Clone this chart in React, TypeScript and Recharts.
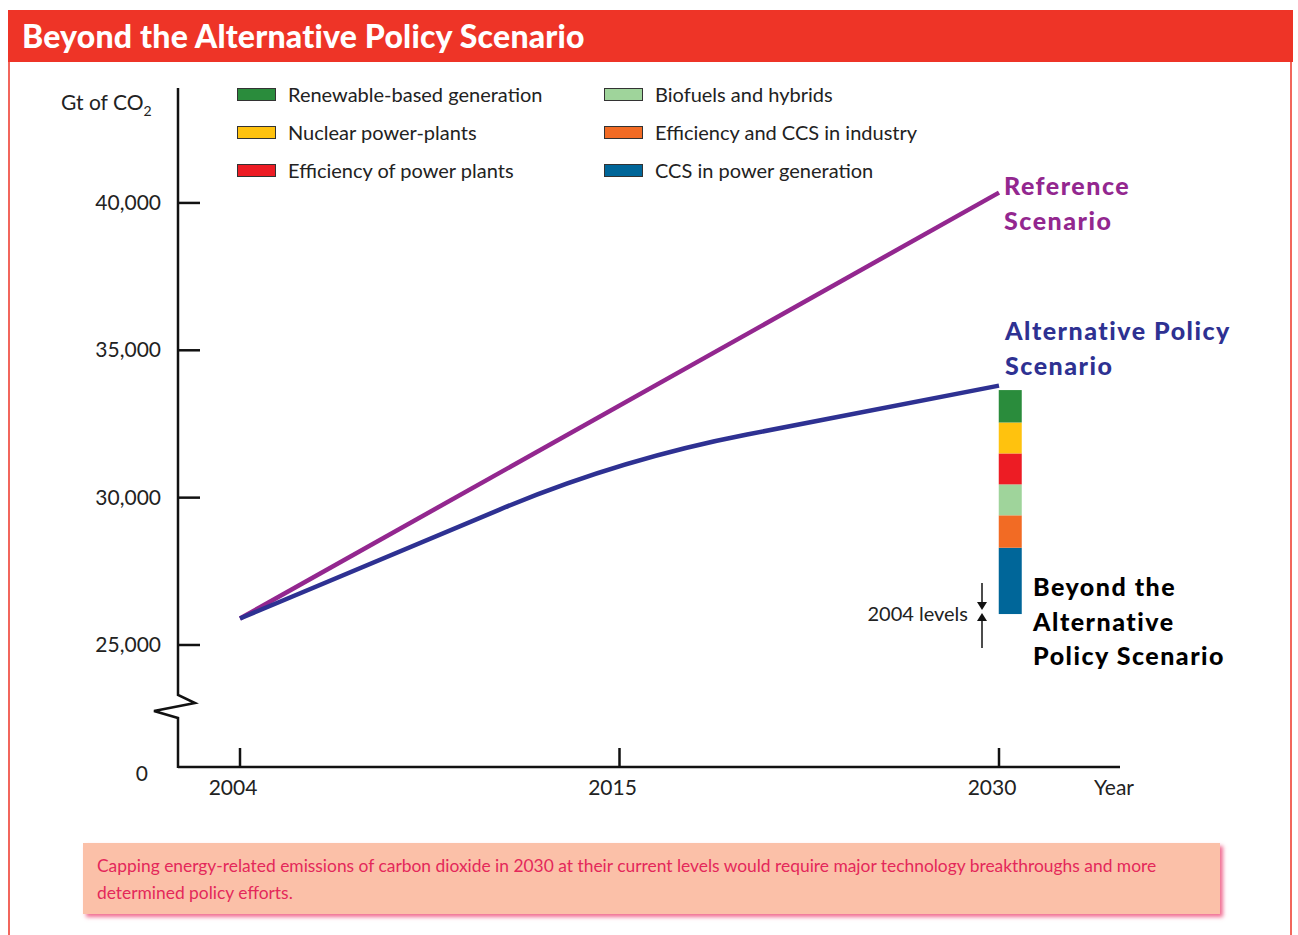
import React from 'react';
import { ComposedChart, Line, Bar, XAxis, YAxis } from 'recharts';

// ---- data ----
const years = ['2004', '2015', '2030'];
const referenceScenario = [25900, null, 40350];
const alternativeScenario = [25900, 31300, 33800];
const level2004Base = [null, null, 26050];
const ccsPower = [null, null, 2250];
const effCcsIndustry = [null, null, 1100];
const biofuels = [null, null, 1050];
const effPowerPlants = [null, null, 1050];
const nuclear = [null, null, 1050];
const renewables = [null, null, 1100];

const yTicks = [20860, 25000, 30000, 35000, 40000];
const yTickLabels = ['0', '25,000', '30,000', '35,000', '40,000'];
const yDomain = [20860, 43900];

const legendLeft = [
  { name: 'Renewable-based generation', color: '#2A8C3C' },
  { name: 'Nuclear power-plants', color: '#FFC20E' },
  { name: 'Efficiency of power plants', color: '#ED1C24' },
];
const legendRight = [
  { name: 'Biofuels and hybrids', color: '#9FD49B' },
  { name: 'Efficiency and CCS in industry', color: '#F26B24' },
  { name: 'CCS in power generation', color: '#006699' },
];

const data = years.map((year, i) => ({
  year,
  reference: referenceScenario[i],
  alternative: alternativeScenario[i],
  base: level2004Base[i],
  ccsPower: ccsPower[i],
  effCcsIndustry: effCcsIndustry[i],
  biofuels: biofuels[i],
  effPowerPlants: effPowerPlants[i],
  nuclear: nuclear[i],
  renewables: renewables[i],
}));

const FONT = 'Lato, "Open Sans", sans-serif';

// straight segments joined by gently rounded corners
const roundedCurve = (context: any) => {
  let pts: number[][] = [];
  return {
    areaStart() {},
    areaEnd() {},
    lineStart() {
      pts = [];
    },
    point(x: number, y: number) {
      pts.push([+x, +y]);
    },
    lineEnd() {
      if (!pts.length) return;
      context.moveTo(pts[0][0], pts[0][1]);
      for (let i = 1; i < pts.length - 1; i++) {
        const [ax, ay] = pts[i - 1];
        const [px, py] = pts[i];
        const [bx, by] = pts[i + 1];
        const da = Math.hypot(px - ax, py - ay);
        const db = Math.hypot(bx - px, by - py);
        const r = Math.min(130, da / 2, db / 2);
        context.lineTo(px - ((px - ax) / da) * r, py - ((py - ay) / da) * r);
        context.quadraticCurveTo(px, py, px + ((bx - px) / db) * r, py + ((by - py) / db) * r);
      }
      const last = pts[pts.length - 1];
      context.lineTo(last[0], last[1]);
    },
  };
};

const YTick = (props: any) => {
  const { x, y, payload } = props;
  const idx = yTicks.indexOf(payload.value);
  const label = yTickLabels[idx] ?? String(payload.value);
  if (idx === 0) {
    return (
      <text x={x - 30} y={y + 14} textAnchor="end" fontSize={21} fill="#222" fontFamily={FONT}>
        {label}
      </text>
    );
  }
  return (
    <g>
      <line x1={x} x2={x + 22} y1={y} y2={y} stroke="#111" strokeWidth={2.5} />
      <text x={x - 17} y={y + 7} textAnchor="end" fontSize={21} fill="#222" fontFamily={FONT}>
        {label}
      </text>
    </g>
  );
};

const XTick = (props: any) => {
  const { x, y, payload } = props;
  return (
    <g>
      <line x1={x} x2={x} y1={y - 19} y2={y} stroke="#111" strokeWidth={2.5} />
      <text x={x - 7} y={y + 28} textAnchor="middle" fontSize={21} fill="#222" fontFamily={FONT}>
        {payload.value}
      </text>
    </g>
  );
};

const ShiftedRect = (props: any) => {
  const { x, y, width, height, fill } = props;
  if (x == null || !height || height <= 0) return <g />;
  return <rect x={x + width / 2} y={y} width={width} height={height} fill={fill} />;
};

const LegendItem = ({ name, color }: { name: string; color: string }) => (
  <div style={{ display: 'flex', alignItems: 'center', height: 38 }}>
    <div
      style={{
        width: 37,
        height: 11,
        background: color,
        border: '1px solid #333',
        marginRight: 12,
      }}
    />
    <span style={{ fontFamily: FONT, fontSize: 20, color: '#222' }}>{name}</span>
  </div>
);

export default function App() {
  return (
    <div style={{ position: 'absolute', left: 0, top: 0, width: 1298, height: 935, background: '#fff', overflow: 'hidden' }}>
      {/* frame */}
      <div
        style={{
          position: 'absolute',
          left: 8,
          top: 10,
          width: 1284,
          height: 960,
          border: '2px solid #F2665C',
          boxSizing: 'border-box',
        }}
      />
      {/* header */}
      <div
        style={{
          position: 'absolute',
          left: 8,
          top: 10,
          width: 1285,
          height: 52,
          background: '#EE3427',
        }}
      />
      <div
        style={{
          position: 'absolute',
          left: 22,
          top: 16,
          color: '#fff',
          fontFamily: FONT,
          fontWeight: 900,
          fontSize: 32,
          letterSpacing: 0.2,
          lineHeight: '40px',
          whiteSpace: 'nowrap',
        }}
      >
        Beyond the Alternative Policy Scenario
      </div>

      {/* chart */}
      <div style={{ position: 'absolute', left: 0, top: 0 }}>
        <ComposedChart
          width={1298}
          height={935}
          data={data}
          margin={{ top: 88, left: 118, right: 178, bottom: 128 }}
        >
          <XAxis
            dataKey="year"
            type="category"
            scale="point"
            padding={{ left: 62, right: 121 }}
            height={40}
            tickSize={0}
            tickMargin={0}
            tickLine={false}
            axisLine={{ stroke: '#111', strokeWidth: 2.5 }}
            tick={<XTick />}
            interval={0}
          />
          <YAxis
            type="number"
            domain={yDomain}
            ticks={yTicks}
            allowDataOverflow
            width={60}
            tickSize={0}
            tickMargin={0}
            tickLine={false}
            axisLine={false}
            tick={<YTick />}
            interval={0}
          />
          <Bar dataKey="base" stackId="s" fill="none" barSize={23} shape={<ShiftedRect />} isAnimationActive={false} />
          <Bar dataKey="ccsPower" stackId="s" fill={legendRight[2].color} barSize={23} shape={<ShiftedRect />} isAnimationActive={false} />
          <Bar dataKey="effCcsIndustry" stackId="s" fill={legendRight[1].color} barSize={23} shape={<ShiftedRect />} isAnimationActive={false} />
          <Bar dataKey="biofuels" stackId="s" fill={legendRight[0].color} barSize={23} shape={<ShiftedRect />} isAnimationActive={false} />
          <Bar dataKey="effPowerPlants" stackId="s" fill={legendLeft[2].color} barSize={23} shape={<ShiftedRect />} isAnimationActive={false} />
          <Bar dataKey="nuclear" stackId="s" fill={legendLeft[1].color} barSize={23} shape={<ShiftedRect />} isAnimationActive={false} />
          <Bar dataKey="renewables" stackId="s" fill={legendLeft[0].color} barSize={23} shape={<ShiftedRect />} isAnimationActive={false} />
          <Line
            dataKey="reference"
            type="linear"
            connectNulls
            stroke="#93278F"
            strokeWidth={4.5}
            dot={false}
            activeDot={false}
            isAnimationActive={false}
          />
          <Line
            dataKey="alternative"
            type={roundedCurve as any}
            stroke="#2E3192"
            strokeWidth={4.5}
            dot={false}
            activeDot={false}
            isAnimationActive={false}
          />
        </ComposedChart>
      </div>

      {/* overlay: broken y axis + annotations */}
      <svg
        width={1298}
        height={935}
        style={{ position: 'absolute', left: 0, top: 0, pointerEvents: 'none' }}
      >
        <path
          d="M178,88 V695 L195,703 L154,711 L178,718 V768"
          fill="none"
          stroke="#111"
          strokeWidth={2.5}
          strokeLinejoin="miter"
        />
        <text x={61} y={110} fontSize={21} fill="#222" fontFamily={FONT}>
          Gt of CO
          <tspan fontSize={14} dy={6}>2</tspan>
        </text>
        <text x={1094} y={795} fontSize={21} fill="#222" fontFamily={FONT}>
          Year
        </text>

        <g fontFamily={FONT} fontWeight={900} fontSize={25} letterSpacing={1.5}>
          <text x={1004} y={195} fill="#93278F">Reference</text>
          <text x={1004} y={230} fill="#93278F">Scenario</text>
          <text x={1005} y={340} fill="#2E3192">Alternative Policy</text>
          <text x={1005} y={375} fill="#2E3192">Scenario</text>
          <text x={1033} y={596} fill="#000">Beyond the</text>
          <text x={1033} y={631} fill="#000">Alternative</text>
          <text x={1033} y={665} fill="#000">Policy Scenario</text>
        </g>

        <text x={968} y={621} textAnchor="end" fontSize={20} fill="#222" fontFamily={FONT}>
          2004 levels
        </text>
        <line x1={982} x2={982} y1={583} y2={604} stroke="#111" strokeWidth={1.5} />
        <path d="M977,602 L987,602 L982,610 Z" fill="#111" />
        <line x1={982} x2={982} y1={620} y2={648} stroke="#111" strokeWidth={1.5} />
        <path d="M977,621 L987,621 L982,613 Z" fill="#111" />
      </svg>

      {/* legend */}
      <div style={{ position: 'absolute', left: 237, top: 75 }}>
        {legendLeft.map((it) => (
          <LegendItem key={it.name} {...it} />
        ))}
      </div>
      <div style={{ position: 'absolute', left: 604, top: 75 }}>
        {legendRight.map((it) => (
          <LegendItem key={it.name} {...it} />
        ))}
      </div>

      {/* caption */}
      <div
        style={{
          position: 'absolute',
          left: 83,
          top: 843,
          width: 1137,
          height: 71,
          background: '#FBC0A8',
          boxShadow: '3px 3px 4px rgba(236, 60, 110, 0.75)',
          boxSizing: 'border-box',
          padding: '9px 14px',
          fontFamily: FONT,
          fontSize: 17.4,
          lineHeight: '27px',
          color: '#E4285A',
        }}
      >
        Capping energy-related emissions of carbon dioxide in 2030 at their current levels would require major technology breakthroughs and more determined policy efforts.
      </div>
    </div>
  );
}
